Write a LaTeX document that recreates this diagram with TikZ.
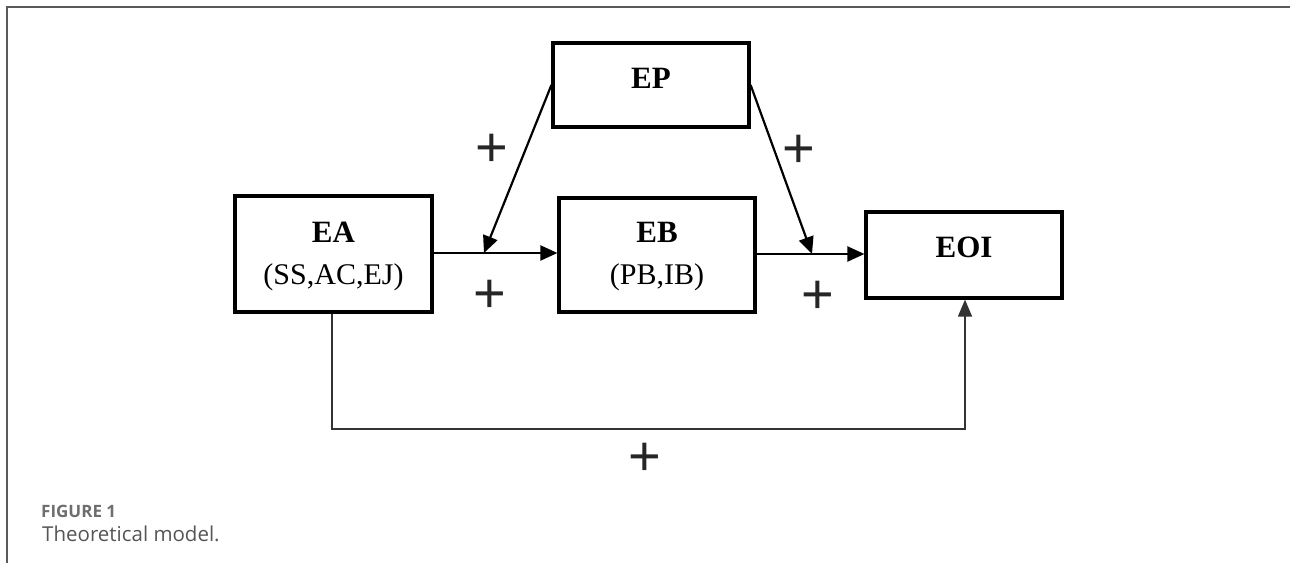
\documentclass[tikz,border=0pt]{standalone}
\usepackage{fontspec}
\setmainfont{Liberation Serif}
\newfontfamily\capfont{Open Sans}
\newfontfamily\plusfont{Liberation Sans}
\usetikzlibrary{arrows.meta}
\definecolor{framegray}{HTML}{5A5A5A}
\definecolor{capgray}{HTML}{6E6E6E}
\definecolor{captext}{HTML}{555555}
\tikzset{
  box/.style={draw=black, line width=3.2pt, inner sep=0pt, align=center},
  conn/.style={line width=2.2pt, -{Triangle[length=17pt,width=15pt]}},
  plusmark/.style={font=\plusfont\fontsize{56}{56}\selectfont, inner sep=0pt, text=black!85},
  title/.style={font=\bfseries\fontsize{31}{31}\selectfont},
  sub/.style={font=\fontsize{30}{30}\selectfont},
}
\begin{document}
\begin{tikzpicture}[x=1pt,y=-1pt]
\useasboundingbox (0,0) rectangle (1290,563);
% frame
\draw[framegray, line width=2pt] (7,563) -- (7,7) -- (1290,7);
% boxes
\node[box, minimum width=197pt, minimum height=116pt] (EA) at (333.5,254) {};
\node[title] (EAt) at (333.5,232) {EA};
\node[sub] (EAs) at (333.5,277) {(SS,AC,EJ)};
\node[box, minimum width=196pt, minimum height=114pt] (EB) at (657,255) {};
\node[title] (EBt) at (657,232) {EB};
\node[sub] (EBs) at (657,277) {(PB,IB)};
\node[box, minimum width=196pt, minimum height=84pt] (EP) at (651,85) {};
\node[title] (EPt) at (651,78) {EP};
\node[box, minimum width=196pt, minimum height=86pt] (EOI) at (964,255) {};
\node[title] (EOIt) at (964,247) {EOI};
% junction coordinates
\coordinate (j1) at (484,253);
\coordinate (j2) at (812,254);
\coordinate (b1) at (332,429);
\coordinate (b2) at (965,429);
% connectors
\draw[conn] (EA.east |- j1) -- (EB.west |- j1);
\draw[conn] (EB.east |- j2) -- (EOI.west |- j2);
\draw[conn] (EP.west) -- (j1);
\draw[conn] (EP.east) -- (j2);
\draw[line width=1.6pt, black!80, -{Triangle[length=17pt,width=14pt]}] (EA.south -| b1) -- (b1) -- (b2) -- (EOI.south -| b2);
% plus signs
\node[plusmark] (p1) at (492,150) {+};
\node[plusmark] (p2) at (799,151) {+};
\node[plusmark] (p3) at (490,296) {+};
\node[plusmark] (p4) at (818,297) {+};
\node[plusmark] (p5) at (645,459) {+};
% caption
\node[anchor=west, text=capgray, font=\capfont\bfseries\fontsize{17}{17}\selectfont, inner sep=0pt] (cap1) at (41,511) {FIGURE 1};
\node[anchor=west, text=captext, font=\capfont\fontsize{20.5}{20.5}\selectfont, inner sep=0pt] (cap2) at (42,534) {Theoretical model.};
\end{tikzpicture}
\end{document}
